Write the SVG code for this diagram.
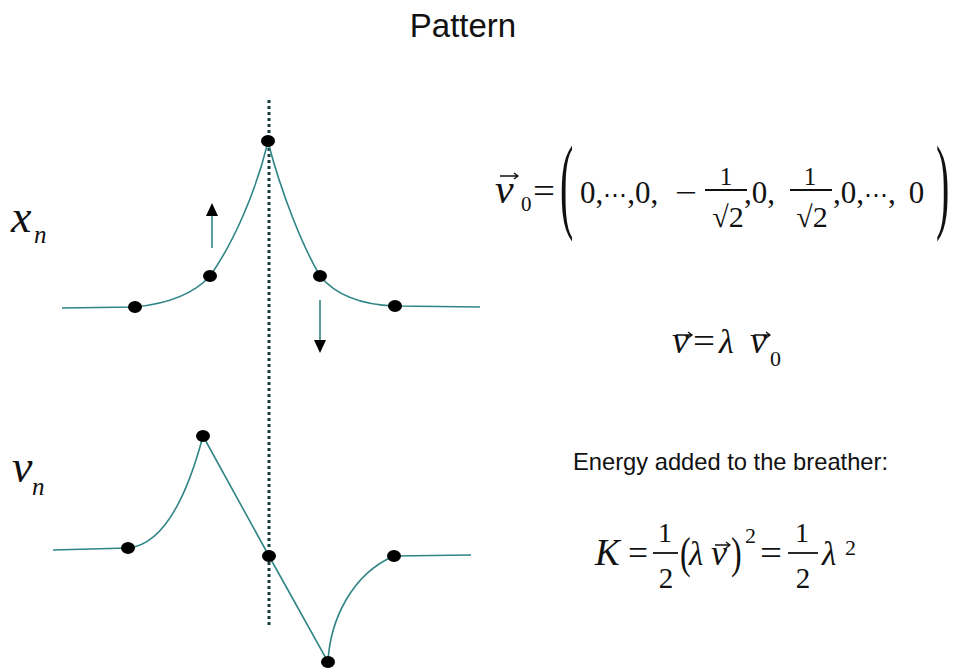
<svg xmlns="http://www.w3.org/2000/svg" width="958" height="669" viewBox="0 0 958 669">
<defs>
<style>
.curve{fill:none;stroke:#2f8585;stroke-width:1.6}
.dot{fill:#000}
.m{font-family:"Liberation Serif","DejaVu Serif",serif;fill:#111}
.d{font-family:"Liberation Serif","DejaVu Serif",serif;fill:#111;font-size:31px}
.i{font-style:italic}
.s{font-family:"Liberation Sans",Arial,sans-serif;fill:#111}
.vec{fill:none;stroke:#111;stroke-width:1.3}
.bar{stroke:#111;stroke-width:1.8}
</style>
</defs>
<rect width="958" height="669" fill="#fff"/>
<text class="s" x="463" y="37" font-size="33" text-anchor="middle">Pattern</text>

<g id="labels">
<text class="m i" x="11" y="232" font-size="46">x</text>
<text class="m i" x="34" y="243" font-size="25">n</text>
<text class="m i" x="12" y="482" font-size="46">v</text>
<text class="m i" x="32" y="495" font-size="25">n</text>
</g>

<line x1="269" y1="100" x2="269" y2="625" stroke="#163c3c" stroke-width="3" stroke-dasharray="3 3"/>

<g id="xcurve">
<path class="curve" d="M62,308 L135,307 C165,304 192,296 210,276 C232,245 255,195 268,142 C282,195 302,245 320,276 C338,298 368,305 395,306 L480,307"/>
<ellipse class="dot" cx="135" cy="307" rx="7" ry="6"/>
<ellipse class="dot" cx="210" cy="276" rx="7" ry="6"/>
<ellipse class="dot" cx="268" cy="141" rx="7" ry="6"/>
<ellipse class="dot" cx="320" cy="276" rx="7" ry="6"/>
<ellipse class="dot" cx="395" cy="306" rx="7" ry="6"/>
<line x1="212" y1="248" x2="212" y2="214" stroke="#2f8585" stroke-width="1.6"/>
<polygon points="206,216 218,216 212,203" fill="#000"/>
<line x1="320" y1="300" x2="320" y2="341" stroke="#2f8585" stroke-width="1.6"/>
<polygon points="314,340 326,340 320,353" fill="#000"/>
</g>

<g id="vcurve">
<path class="curve" d="M53,550 L128,548 C162,545 186,500 203,436 L269,556 L328,662 C330,620 352,574 394,556 L471,555"/>
<ellipse class="dot" cx="128" cy="548" rx="7" ry="6"/>
<ellipse class="dot" cx="203" cy="436" rx="7" ry="6"/>
<ellipse class="dot" cx="269" cy="556" rx="7" ry="6"/>
<ellipse class="dot" cx="328" cy="662" rx="7" ry="6"/>
<ellipse class="dot" cx="394" cy="556" rx="7" ry="6"/>
</g>

<g id="eq-v0">
<text class="m i" x="495" y="203" font-size="42">v</text>
<path class="vec" d="M500,176 H517 M514,173 L518,176 L514,179"/>
<text class="m" x="521" y="211" font-size="21">0</text>
<text class="m" x="533" y="203" font-size="36" textLength="22" lengthAdjust="spacingAndGlyphs">=</text>
<text class="m" transform="translate(560,219) scale(1,2.65)" font-size="40">(</text>
<text class="d" x="580" y="203">0,<tspan font-size="24">⋯</tspan>,0,</text>
<text class="d" x="675" y="203" textLength="22" lengthAdjust="spacingAndGlyphs">−</text>
<text class="m" x="726" y="185" font-size="25" text-anchor="middle">1</text>
<line class="bar" x1="705" y1="190" x2="747" y2="190"/>
<text class="m" x="728" y="227" font-size="30" text-anchor="middle">√2</text>
<text class="d" x="744" y="203">,0,</text>
<text class="m" x="810" y="185" font-size="25" text-anchor="middle">1</text>
<line class="bar" x1="790" y1="190" x2="832" y2="190"/>
<text class="m" x="812" y="227" font-size="30" text-anchor="middle">√2</text>
<text class="d" x="833" y="203">,0,<tspan font-size="24">⋯</tspan>,<tspan dx="13">0</tspan></text>
<text class="m" transform="translate(936,219) scale(1,2.65)" font-size="40">)</text>
</g>

<g id="eq-v">
<text class="m i" x="672" y="353" font-size="38">v</text>
<path class="vec" d="M676,335 H691 M688,332 L692,335 L688,338"/>
<text class="m" x="693" y="353" font-size="36" textLength="22" lengthAdjust="spacingAndGlyphs">=</text>
<text class="m i" x="719" y="353" font-size="34">λ</text>
<text class="m i" x="750" y="353" font-size="38">v</text>
<path class="vec" d="M754,335 H769 M766,332 L770,335 L766,338"/>
<text class="m" x="770" y="366" font-size="22">0</text>
</g>

<text class="s" x="573" y="470" font-size="24" textLength="315" lengthAdjust="spacingAndGlyphs">Energy added to the breather:</text>

<g id="eq-k">
<text class="m i" x="595" y="565" font-size="37">K</text>
<text class="m" x="628" y="565" font-size="35" textLength="20" lengthAdjust="spacingAndGlyphs">=</text>
<text class="m" x="665" y="542" font-size="28" text-anchor="middle">1</text>
<line class="bar" x1="653" y1="553" x2="678" y2="553"/>
<text class="m" x="666" y="588" font-size="29" text-anchor="middle">2</text>
<text class="m" transform="translate(680,568) scale(1,1.4)" font-size="32">(</text>
<text class="m i" x="689" y="565" font-size="33">λ</text>
<text class="m i" x="711" y="565" font-size="36">v</text>
<path class="vec" d="M715,545 H729 M726,542 L730,545 L726,548"/>
<text class="m" transform="translate(731,568) scale(1,1.4)" font-size="32">)</text>
<text class="m" x="745" y="543" font-size="22">2</text>
<text class="m" x="760" y="565" font-size="35" textLength="22" lengthAdjust="spacingAndGlyphs">=</text>
<text class="m" x="802" y="542" font-size="28" text-anchor="middle">1</text>
<line class="bar" x1="788" y1="553" x2="818" y2="553"/>
<text class="m" x="803" y="588" font-size="29" text-anchor="middle">2</text>
<text class="m i" x="822" y="565" font-size="33">λ</text>
<text class="m" x="845" y="555" font-size="22">2</text>
</g>
</svg>
